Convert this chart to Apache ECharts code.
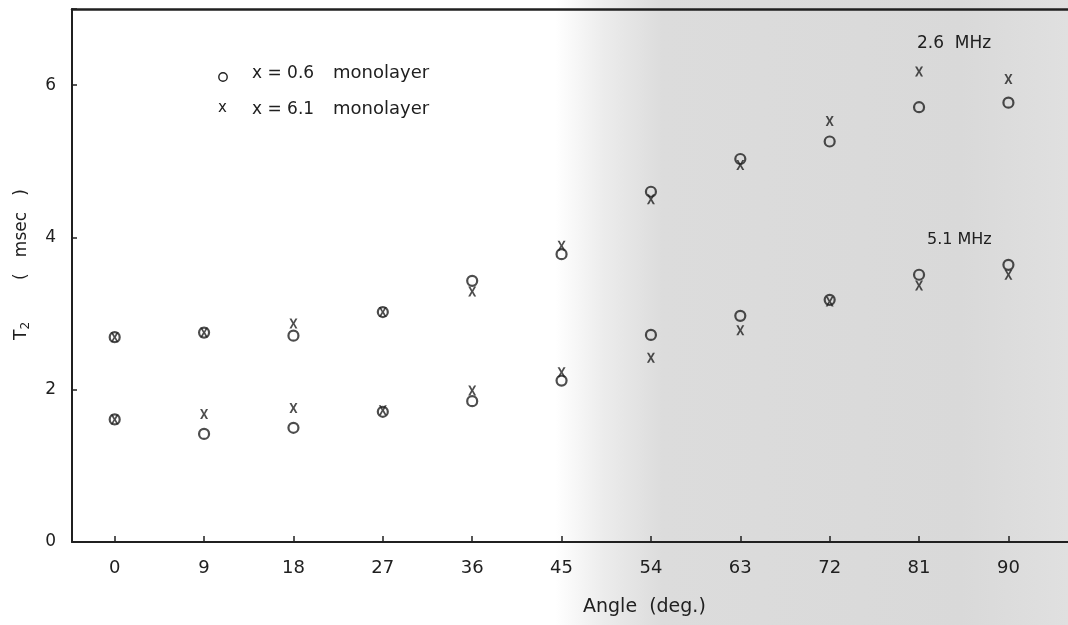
<!DOCTYPE html>
<html>
<head>
<meta charset="utf-8">
<script src="https://cdn.jsdelivr.net/npm/echarts@6/dist/echarts.min.js"></script>
<style>
html,body{margin:0;padding:0;background:#fff;}
#chart{width:1068px;height:625px;}
</style>
</head>
<body>
<div id="chart"></div>
<script>
// ---- data ----
var angles = [0, 9, 18, 27, 36, 45, 54, 63, 72, 81, 90];
var xTickLabels = [0, 9, 18, 27, 36, 45, 54, 63, 72, 81, 90];
var yTickLabels = [0, 2, 4, 6];
// 2.6 MHz
var mhz26_x06 = [2.69, 2.75, 2.71, 3.02, 3.43, 3.78, 4.60, 5.03, 5.26, 5.71, 5.77];
var mhz26_x61 = [2.69, 2.75, 2.87, 3.02, 3.29, 3.89, 4.50, 4.95, 5.53, 6.18, 6.08];
// 5.1 MHz
var mhz51_x06 = [1.61, 1.42, 1.50, 1.71, 1.85, 2.12, 2.72, 2.97, 3.18, 3.51, 3.64];
var mhz51_x61 = [1.61, 1.68, 1.76, 1.73, 1.99, 2.23, 2.42, 2.78, 3.16, 3.37, 3.51];

function pairs(ys){ return angles.map(function(a,i){ return [a, ys[i]]; }); }

var ink = '#202020';
var fontFam = '"DejaVu Sans", "Open Sans", sans-serif';
var crossPath = 'path://M0,0 L2.6,0 L5,3.6 L7.4,0 L10,0 L6.4,5 L10,10 L7.4,10 L5,6.4 L2.6,10 L0,10 L3.6,5 Z';

function circleSeries(name, ys){
  return {
    name: name, type: 'scatter', data: pairs(ys),
    symbol: 'circle', symbolSize: 10,
    itemStyle: { color: 'rgba(0,0,0,0)', borderColor: ink, borderWidth: 2.2 },
    emphasis: { disabled: true }, z: 3
  };
}
function crossSeries(name, ys){
  return {
    name: name, type: 'scatter', data: pairs(ys),
    symbol: crossPath, symbolSize: [8, 10],
    itemStyle: { color: ink },
    emphasis: { disabled: true }, z: 4
  };
}

var chart = echarts.init(document.getElementById('chart'), null, { renderer: 'canvas' });
chart.setOption({
  animation: false,
  backgroundColor: {
    type: 'linear', x: 0, y: 0, x2: 1, y2: 0,
    colorStops: [
      { offset: 0, color: '#ffffff' },
      { offset: 0.52, color: '#ffffff' },
      { offset: 0.565, color: '#ececec' },
      { offset: 0.62, color: '#dcdcdc' },
      { offset: 0.9, color: '#d9d9d9' },
      { offset: 1, color: '#e0e0e0' }
    ]
  },
  grid: { left: 72, right: 0, top: 9, bottom: 83, containLabel: false },
  xAxis: [{
    type: 'value', min: -4.3, max: 96,
    axisLine: { show: true, onZero: false, lineStyle: { color: ink, width: 2 } },
    axisTick: { show: true, inside: true, length: 6, customValues: xTickLabels, lineStyle: { color: ink, width: 1.5 } },
    axisLabel: { show: true, customValues: xTickLabels, margin: 17, color: ink, fontSize: 18, fontFamily: fontFam },
    splitLine: { show: false }
  }, {
    type: 'value', position: 'top', min: -4.3, max: 96,
    axisLine: { show: true, onZero: false, lineStyle: { color: ink, width: 2.5 } },
    axisTick: { show: false }, axisLabel: { show: false }, splitLine: { show: false }
  }],
  yAxis: [{
    type: 'value', min: 0, max: 7, interval: 2,
    axisLine: { show: true, onZero: false, lineStyle: { color: ink, width: 2 } },
    axisTick: { show: true, inside: true, length: 5, lineStyle: { color: ink, width: 1.5 } },
    axisLabel: { show: true, margin: 16, color: ink, fontSize: 17, fontFamily: fontFam,
      formatter: function(v){ return yTickLabels.indexOf(v) >= 0 ? String(v) : ''; } },
    splitLine: { show: false }
  }],
  series: [
    circleSeries('2.6 MHz, x = 0.6 monolayer', mhz26_x06),
    crossSeries('2.6 MHz, x = 6.1 monolayer', mhz26_x61),
    circleSeries('5.1 MHz, x = 0.6 monolayer', mhz51_x06),
    crossSeries('5.1 MHz, x = 6.1 monolayer', mhz51_x61)
  ],
  graphic: [
    // legend (inside plot)
    { type: 'circle', shape: { cx: 223, cy: 77, r: 4.2 }, style: { fill: 'none', stroke: ink, lineWidth: 1.4 } },
    { type: 'text', left: 218, top: 101, style: { text: 'x', fill: ink, font: '15px ' + fontFam } },
    { type: 'text', left: 252, top: 65, style: { text: 'x = 0.6', fill: ink, font: '17px ' + fontFam } },
    { type: 'text', left: 252, top: 101, style: { text: 'x = 6.1', fill: ink, font: '17px ' + fontFam } },
    { type: 'text', left: 333, top: 64, style: { text: 'monolayer', fill: ink, font: '18px ' + fontFam } },
    { type: 'text', left: 333, top: 100, style: { text: 'monolayer', fill: ink, font: '18px ' + fontFam } },
    // frequency annotations
    { type: 'text', left: 917, top: 35, style: { text: '2.6  MHz', fill: ink, font: '17px ' + fontFam } },
    { type: 'text', left: 927, top: 232, style: { text: '5.1 MHz', fill: ink, font: '16px ' + fontFam } },
    // x axis name
    { type: 'text', left: 583, top: 598, style: { text: 'Angle  (deg.)', fill: ink, font: '19px ' + fontFam } },
    // y axis name (rotated)
    { type: 'text', x: 22, y: 340, rotation: Math.PI / 2,
      style: {
        text: '{t|T}{s|2}{n|(   msec   )}',
        rich: {
          t: { fontSize: 17, fontFamily: fontFam, fill: ink, color: ink },
          s: { fontSize: 12, fontFamily: fontFam, fill: ink, color: ink, padding: [8, 0, 0, 0] },
          n: { fontSize: 17, fontFamily: fontFam, fill: ink, color: ink, padding: [0, 0, 0, 42] }
        },
        fill: ink, verticalAlign: 'middle', align: 'left'
      } }
  ]
});
</script>
</body>
</html>
